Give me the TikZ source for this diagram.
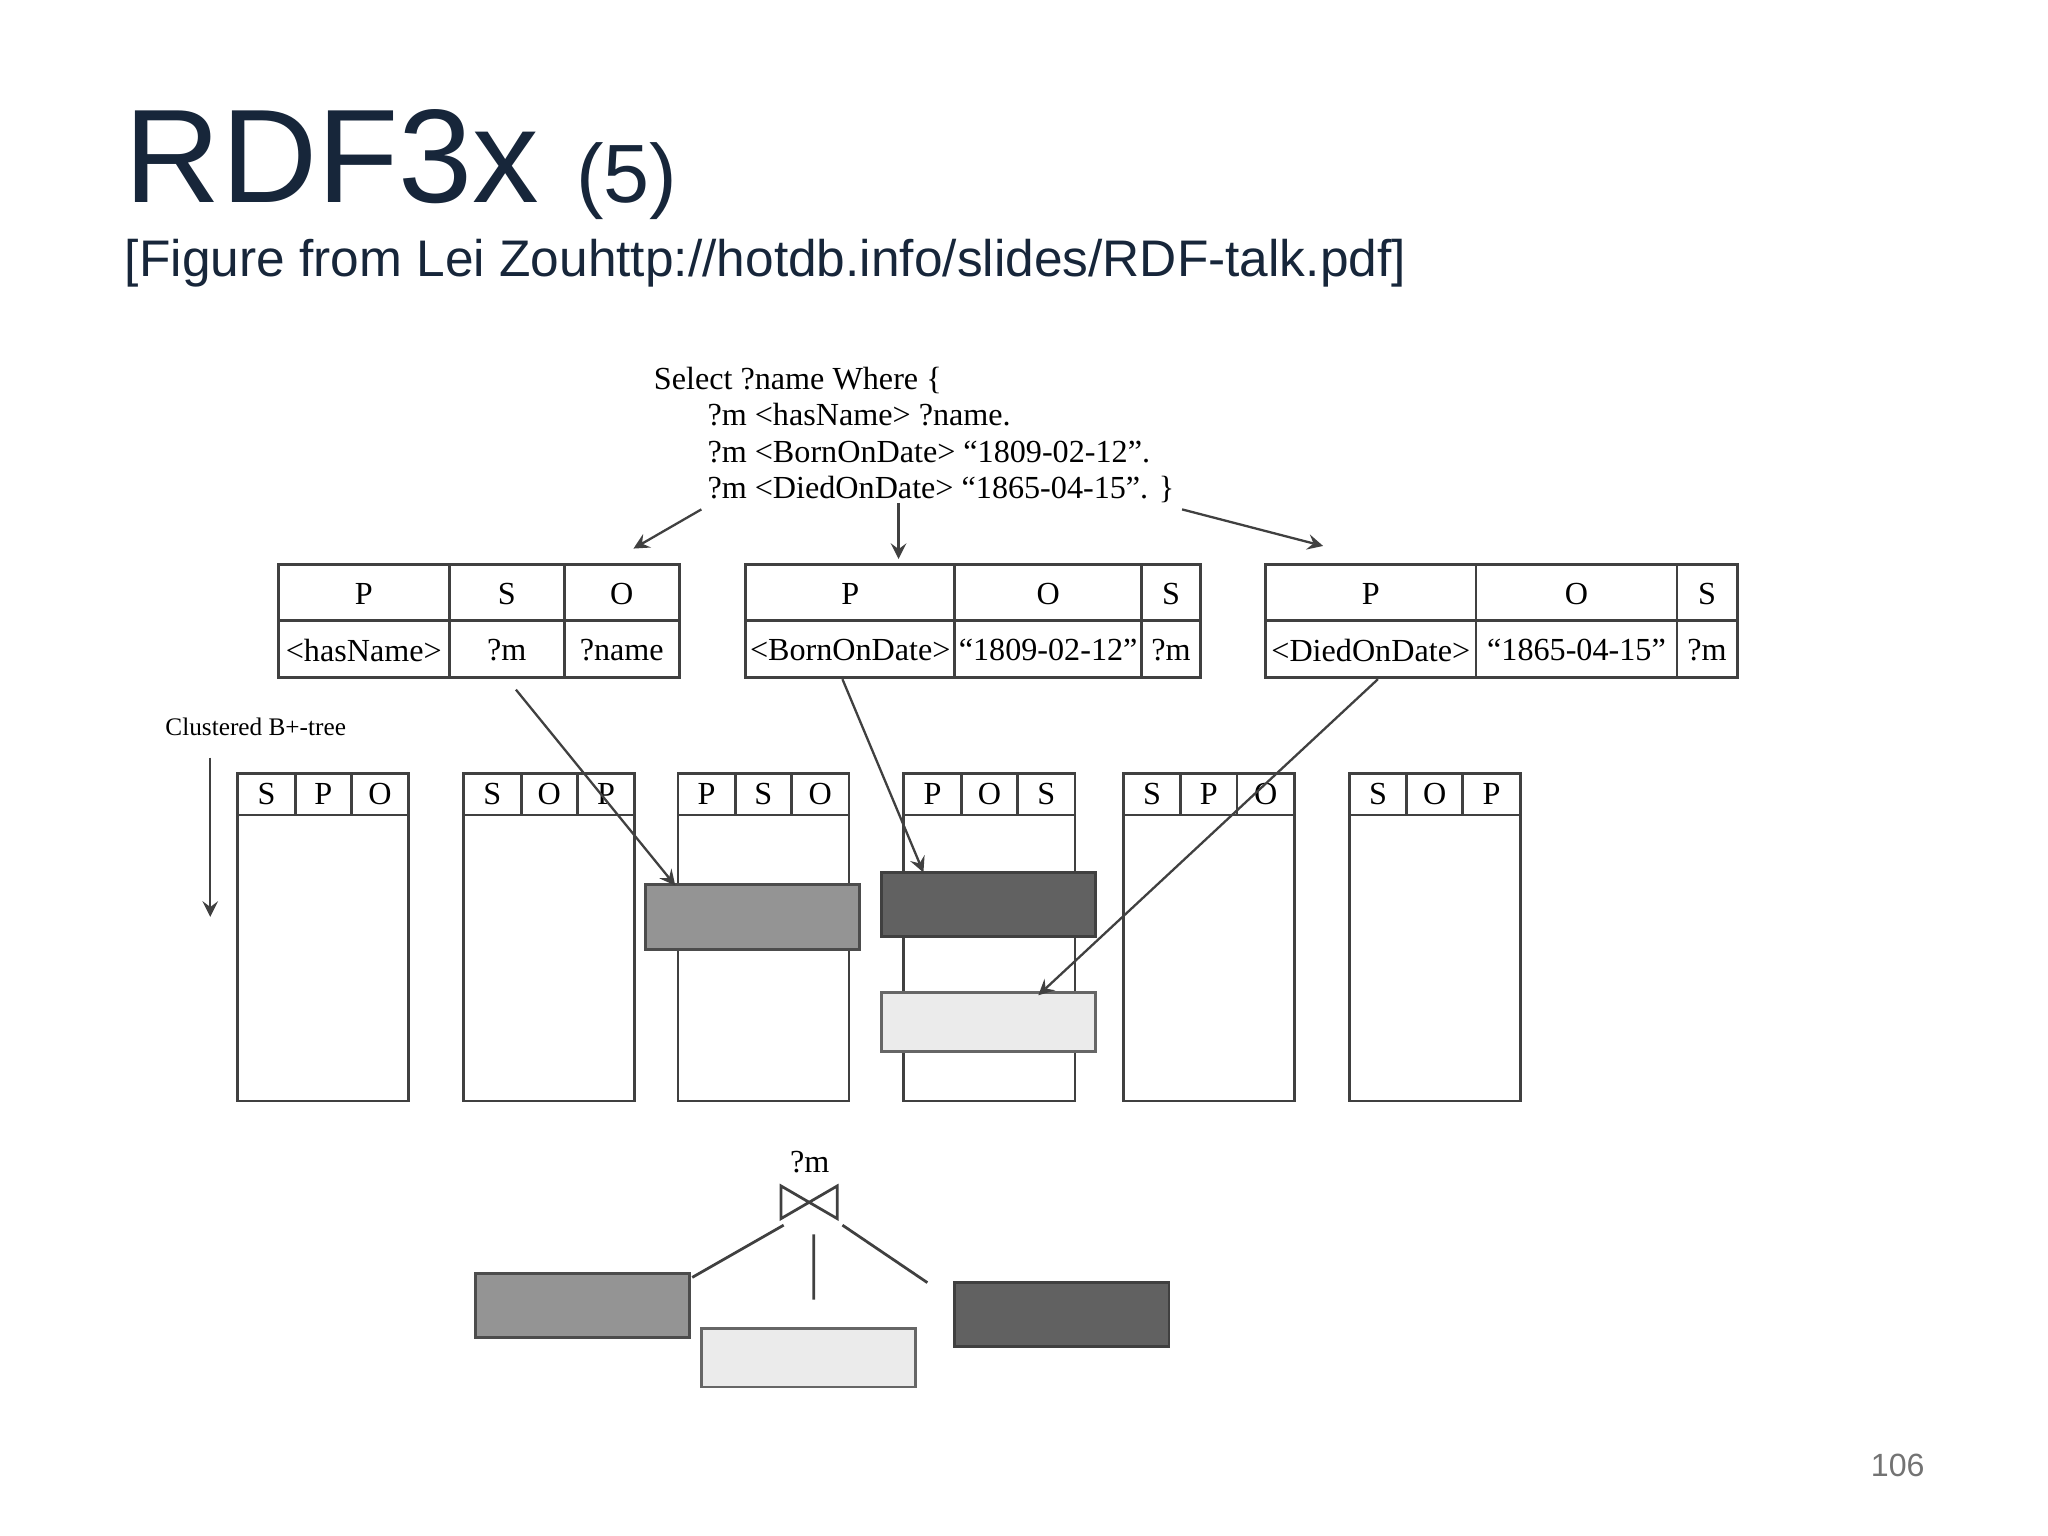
\documentclass[tikz,border=0pt]{standalone}
\usepackage{fontspec}
\setsansfont{Liberation Sans}
\setmainfont{Liberation Serif}
\usetikzlibrary{patterns}
\begin{document}
\begin{tikzpicture}[x=0.01cm,y=-0.01cm,
  ser/.style={font=\rmfamily\fontsize{7}{8}\selectfont,inner sep=0pt},
  cell/.style={draw=black!75,line width=0.6pt},
  arr/.style={draw=black!75,line width=0.5pt,->,>=stealth},
  med/.style={fill=black!42,draw=black!70,line width=0.6pt},
  dark/.style={fill=black!62,draw=black!75,line width=0.6pt},
  light/.style={fill=black!8,draw=black!60,line width=0.6pt}]
\useasboundingbox (0,0) rectangle (1568,1176);
\definecolor{navy}{HTML}{17263A}
\node[anchor=base west,inner sep=0pt,text=navy,font=\sffamily\fontsize{29}{30}\selectfont] (title) at (95,155) {RDF3x {\fontsize{18}{20}\selectfont(5)}};
\node[anchor=base west,inner sep=0pt,text=navy,font=\sffamily\fontsize{11.2}{13}\selectfont] (sub) at (95,212) {[Figure from Lei Zouhttp://hotdb.info/slides/RDF-talk.pdf]};
% query
\node[ser,anchor=base west] (q1) at (500,298) {Select ?name Where \{};
\node[ser,anchor=base west] (q2) at (541,326) {?m <hasName> ?name.};
\node[ser,anchor=base west] (q3) at (541,354) {?m <BornOnDate> “1809-02-12”.};
\node[ser,anchor=base west] (q4) at (541,382) {?m <DiedOnDate> “1865-04-15”. \}};
\coordinate (a1s) at (537,390); \coordinate (a1e) at (485,420);
\coordinate (a2s) at (688,385); \coordinate (a2e) at (688,428);
\coordinate (a3s) at (905,390); \coordinate (a3e) at (1013,418);
\draw[arr] (a1s)--(a1e); \draw[arr] (a2s)--(a2e); \draw[arr] (a3s)--(a3e);
% tables
\newcommand{\qtab}[8]{%
 \draw[cell] (#1,432) rectangle (#4,519);
 \draw[cell] (#1,475)--(#4,475) (#2,432)--(#2,519) (#3,432)--(#3,519);
 \node[ser] at ({(#1+#2)/2},455) {#5};
 \node[ser] at ({(#2+#3)/2},455) {#6};
 \node[ser] at ({(#3+#4)/2},455) {#7};
 #8}
\qtab{213}{344}{432}{520}{P}{S}{O}{%
 \node[ser] (t1a) at (278.5,498) {<hasName>};
 \node[ser] (t1b) at (388,498) {?m};
 \node[ser] (t1c) at (476,498) {?name};}
\qtab{571}{731}{874}{919}{P}{O}{S}{%
 \node[ser] (t2a) at (651,498) {<BornOnDate>};
 \node[ser] (t2b) at (802.5,498) {“1809-02-12”};
 \node[ser] (t2c) at (896.5,498) {?m};}
\qtab{969}{1130}{1284}{1330}{P}{O}{S}{%
 \node[ser] (t3a) at (1049.5,498) {<DiedOnDate>};
 \node[ser] (t3b) at (1207,498) {“1865-04-15”};
 \node[ser] (t3c) at (1307,498) {?m};}
% B+ tree label
\node[ser,anchor=base west,font=\rmfamily\fontsize{5.5}{6}\selectfont] (cl) at (126,563) {Clustered B+-tree};
\coordinate (cls) at (161,580); \coordinate (cle) at (161,702);
\draw[arr] (cls)--(cle);
% index columns
\newcommand{\idx}[4]{%
 \draw[cell] (#1,592) rectangle ({#1+131},843);
 \draw[cell] (#1,624)--({#1+131},624) ({#1+44},592)--({#1+44},624) ({#1+87},592)--({#1+87},624);
 \node[ser] at ({#1+22},608) {#2};
 \node[ser] at ({#1+65.5},608) {#3};
 \node[ser] at ({#1+109},608) {#4};}
\idx{182}{S}{P}{O}
\idx{355}{S}{O}{P}
\idx{519}{P}{S}{O}
\idx{692}{P}{O}{S}
\idx{860}{S}{P}{O}
\idx{1033}{S}{O}{P}
% shaded ranges
\draw[med] (494,677) rectangle (658,727);
\draw[dark] (675,668) rectangle (839,717);
\draw[light] (675,760) rectangle (839,805);
\coordinate (b1s) at (395,528); \coordinate (b1e) at (517,678);
\coordinate (b2s) at (645,520); \coordinate (b2e) at (707,668);
\coordinate (b3s) at (1055,520); \coordinate (b3e) at (795,762);
\draw[arr] (b1s)--(b1e); \draw[arr] (b2s)--(b2e); \draw[arr] (b3s)--(b3e);
% join
\node[ser] (jm) at (620,890) {?m};
\draw[black!75,line width=0.6pt] (598,908)--(598,933)--(641,908)--(641,933)--cycle;
\coordinate (j1) at (600,938); \coordinate (j1e) at (530,978);
\coordinate (j2) at (623,945); \coordinate (j2e) at (623,995);
\coordinate (j3) at (645,938); \coordinate (j3e) at (710,982);
\draw[black!75,line width=0.6pt] (j1)--(j1e) (j2)--(j2e) (j3)--(j3e);
\draw[med] (364,975) rectangle (528,1024);
\draw[light] (537,1017) rectangle (701,1062);
\draw[dark] (731,982) rectangle (895,1031);
\node[inner sep=0pt,text=black!55,font=\sffamily\fontsize{7}{8}\selectfont] (pg) at (1453,1122) {106};
\end{tikzpicture}
\end{document}
